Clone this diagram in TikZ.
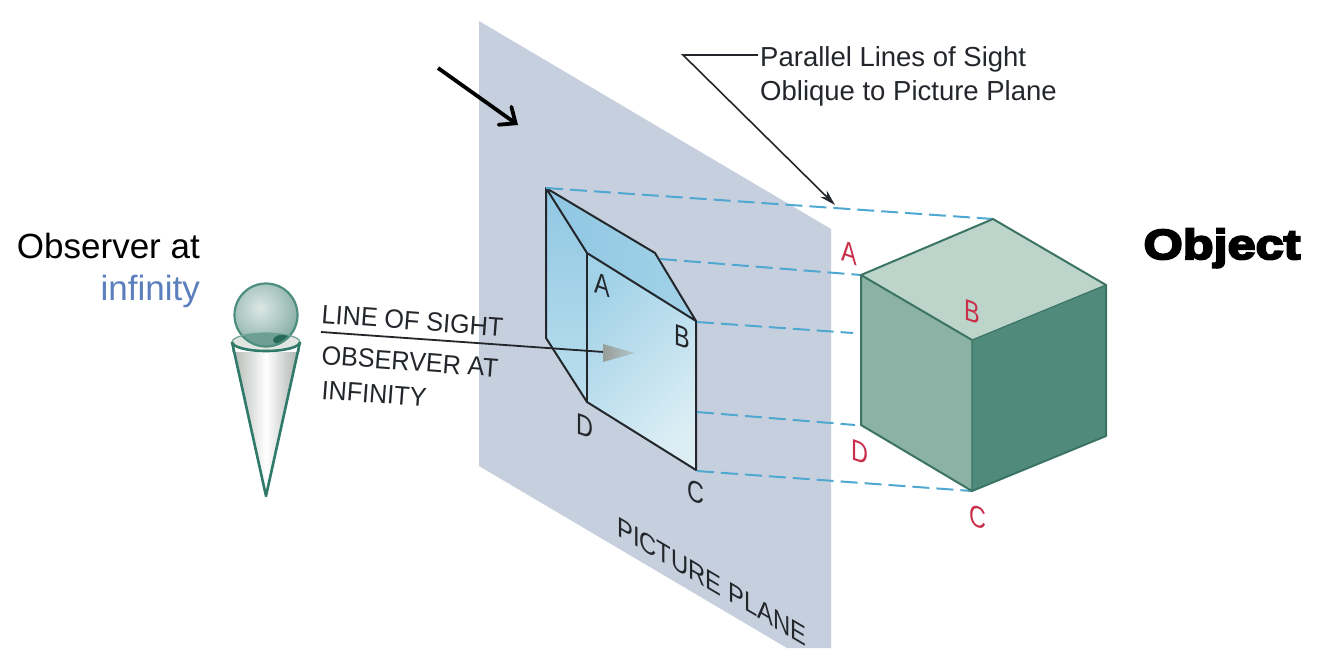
\documentclass[tikz,border=0pt]{standalone}
\usepackage{fontspec}
\setmainfont{Liberation Sans}
\newfontfamily\heavyfont[FakeBold=5,FakeStretch=1.2]{Liberation Sans Bold}
\newfontfamily\capsfont[FakeStretch=0.95]{Liberation Sans}
\usetikzlibrary{arrows.meta,calc}
\definecolor{planecol}{HTML}{C6CFDD}
\definecolor{edgegreen}{HTML}{2F7A68}
\definecolor{cubetop}{HTML}{BDD4CA}
\definecolor{cubeleft}{HTML}{8BB2A5}
\definecolor{cuberight}{HTML}{4F8A7A}
\definecolor{cubeedge}{HTML}{3B7464}
\definecolor{dashblue}{HTML}{4FA8D0}
\definecolor{redlabel}{HTML}{C8304A}
\definecolor{inkdark}{HTML}{23272B}
\definecolor{infblue}{HTML}{5B7FBD}
\definecolor{prismA}{HTML}{8FC6E3}
\definecolor{prismB}{HTML}{BCE0EE}
\definecolor{prismC}{HTML}{A2D2E8}
\definecolor{prismD}{HTML}{DCEEF4}
\definecolor{sphereIn}{HTML}{DCE8E5}
\definecolor{sphereOut}{HTML}{84ACA3}
\definecolor{coneGrey}{HTML}{A9AFAA}
\definecolor{rimGrey}{HTML}{E2E6E3}
\tikzset{
  x=1pt,y=-1pt,
  sight/.style={draw=dashblue,line width=2pt,dash pattern=on 17pt off 7pt},
  prismedge/.style={draw=inkdark,line width=2pt,line join=round},
  cubeface/.style={draw=cubeedge,line width=2pt,line join=round},
  conestroke/.style={draw=edgegreen,line width=2.6pt,line join=round},
  redl/.style={font=\fontsize{30}{34}\selectfont,text=redlabel,inner sep=0pt,yslant=-0.35,xscale=0.78,transform shape},
  blkl/.style={font=\fontsize{30}{34}\selectfont,text=inkdark,inner sep=0pt,yslant=-0.35,xscale=0.78,transform shape},
  caplbl/.style={font=\fontsize{27.5}{33}\selectfont,text=inkdark,inner sep=0pt,anchor=base west},
  loslbl/.style={font=\capsfont\fontsize{26.5}{31}\selectfont,text=inkdark,inner sep=0pt,anchor=base west,rotate=-4.3},
  title/.style={font=\fontsize{35}{40}\selectfont,inner sep=0pt,anchor=base east},
  leader/.style={draw=inkdark,line width=1.6pt,line join=miter},
}
\begin{document}
\begin{tikzpicture}
\useasboundingbox (0,0) rectangle (1321,648);
\fill[white] (0,0) rectangle (1321,648);
% coordinates
\coordinate (ppa) at (479,21);
\coordinate (ppb) at (831,229);
\coordinate (ppc) at (831,648);
\coordinate (ppd) at (787,648);
\coordinate (ppe) at (479,466);
\coordinate (bt) at (546,188);
\coordinate (bb) at (546,338);
\coordinate (ft) at (587,253);
\coordinate (fb) at (587,402);
\coordinate (tr) at (655,253);
\coordinate (B) at (696,321);
\coordinate (C) at (696,470);
\coordinate (ct) at (993,219);
\coordinate (cl) at (861,275);
\coordinate (cr) at (1106,285);
\coordinate (cc) at (972,340);
\coordinate (cb) at (972,491);
\coordinate (cbl) at (861,425);
\coordinate (cbr) at (1106,436);
% picture plane
\fill[planecol] (ppa)--(ppb)--(ppc)--(ppd)--(ppe)--cycle;
% prism faces
\begin{scope}
\clip (bt)--(ft)--(fb)--(bb)--cycle;
\shade[top color=prismA,bottom color=prismB] (540,180) rectangle (595,410);
\end{scope}
\begin{scope}
\clip (bt)--(tr)--(B)--(ft)--cycle;
\shade[left color=prismA,right color=prismC] (540,185) rectangle (700,325);
\end{scope}
\begin{scope}
\clip (ft)--(B)--(C)--(fb)--cycle;
\shade[left color=prismC,right color=prismD,shading angle=45] (587,253) rectangle (696,470);
\end{scope}
% prism edges
\draw[prismedge] (bt)--(bb)--(fb)--(C)--(B)--(tr)--(bt)--(ft)--(B);
\draw[prismedge] (ft)--(fb);
% sight lines
\coordinate (s1a) at (546,188);
\coordinate (s2a) at (660,259);
\coordinate (s2b) at (861,275);
\coordinate (s3a) at (697,322);
\coordinate (s3b) at (853,333);
\coordinate (s4a) at (697,412);
\coordinate (s4b) at (855,425);
\coordinate (s5a) at (697,471);
\draw[sight] (s1a)--(ct);
\draw[sight] (s2a)--(s2b);
\draw[sight] (s3a)--(s3b);
\draw[sight] (s4a)--(s4b);
\draw[sight] (s5a)--(cb);
% cube
\fill[cubeleft] (cl)--(cc)--(cb)--(cbl)--cycle;
\fill[cuberight] (cc)--(cr)--(cbr)--(cb)--cycle;
\fill[cubetop] (cl)--(ct)--(cr)--(cc)--cycle;
\draw[cubeface] (cc)--(cl)--(ct)--(cr)--(cbr)--(cb)--(cbl)--(cl);
\draw[cubeface,line width=1.2pt] (cr)--(cc)--(cb);
% observer: cone
\coordinate (apex) at (266,496);
\coordinate (rimL) at (232,342);
\coordinate (rimR) at (300,342);
\begin{scope}
\clip (rimL)--(apex)--(rimR)--(300,352)--(232,352)--cycle;
\shade[left color=coneGrey!90,right color=coneGrey,middle color=white] (232,342) rectangle (300,497);
\end{scope}
\fill[rimGrey] (266,342) ellipse [x radius=34,y radius=9];
% observer: sphere
\begin{scope}
\clip (266,315) circle [radius=31.5];
\shade[inner color=sphereIn,outer color=sphereOut] (260,308) circle [radius=42];
\begin{scope}
\clip (266,342) ellipse [x radius=34,y radius=9];
\fill[sphereOut!75!edgegreen] (232,330) rectangle (300,352);
\fill[edgegreen!85!black] (288,340) ellipse [x radius=15,y radius=6];
\end{scope}
\end{scope}
\draw[edgegreen!85!white,line width=2.2pt] (266,315) circle [radius=31.5];
\draw[conestroke] (rimL)--(apex)--(rimR);
\draw[conestroke] (rimL) arc [start angle=180,end angle=360,x radius=34,y radius=-9];
\draw[edgegreen!70!white,line width=1.2pt] (rimL) arc [start angle=180,end angle=0,x radius=34,y radius=-9];
% line of sight
\coordinate (los0) at (321,332);
\coordinate (los1) at (604,352);
\coordinate (t0) at (635,353);
\coordinate (t1) at (603,344);
\coordinate (t2) at (603,362);
\draw[inkdark,line width=1.8pt] (los0)--(los1);
\shade[left color=coneGrey!90!black,right color=coneGrey!50!prismB] (t0)--(t1)--(t2)--cycle;
% labels
\node[loslbl] (los) at (321,323) {LINE OF SIGHT};
\node[loslbl] (obs) at (321,364) {OBSERVER AT};
\node[loslbl] (inf) at (321,399) {INFINITY};
\node[anchor=base west,inner sep=0pt,font=\fontsize{28}{32}\selectfont,text=inkdark,yslant=-0.59,xscale=0.85,transform shape] (pp) at (617,535) {PICTURE PLANE};
\node[blkl] (la) at (602,285) {A};
\node[blkl] (lb) at (682,337) {B};
\node[blkl] (lc) at (696,492) {C};
\node[blkl] (ld) at (585,426) {D};
\node[redl] (ra) at (849,253) {A};
\node[redl] (rb) at (972,312) {B};
\node[redl] (rc) at (978,517) {C};
\node[redl] (rd) at (860,452) {D};
\node[caplbl] (par1) at (760,66) {Parallel Lines of Sight};
\node[caplbl] (par2) at (760,100) {Oblique to Picture Plane};
\node[title] (ob1) at (200,258) {Observer at};
\node[title,text=infblue] (ob2) at (200,300) {infinity};
\node[anchor=base,inner sep=0pt,font=\heavyfont\fontsize{42}{46}\selectfont] (objt) at (1222,259) {Object};
% leader and black arrow
\coordinate (lead0) at (758,55);
\coordinate (lead1) at (683,55);
\coordinate (lead2) at (835,205);
\draw[leader,-{Stealth[length=16pt,width=9pt]}] (lead0)--(lead1)--(lead2);
\coordinate (ba0) at (438,68);
\coordinate (ba1) at (518,125);
\draw[black,line width=3.8pt,-{Straight Barb[length=13pt,width=22pt,line cap=round]}] (ba0)--(ba1);
\end{tikzpicture}
\end{document}
